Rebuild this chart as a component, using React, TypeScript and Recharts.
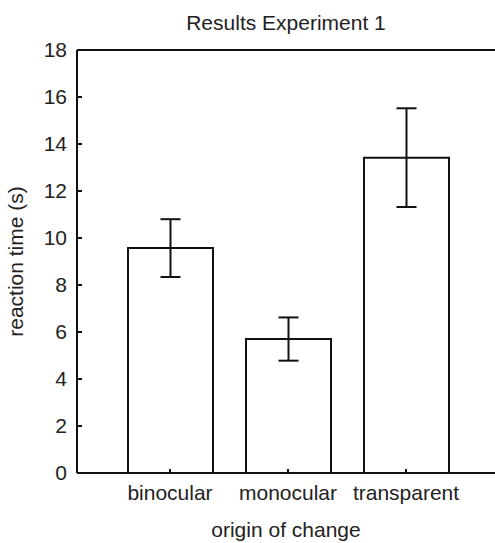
import { Bar, BarChart, ErrorBar, ReferenceLine, XAxis, YAxis } from "recharts"

const categories = ["binocular", "monocular", "transparent"]
const meanTimes = [9.57, 5.7, 13.42]
const errors = [1.23, 0.92, 2.1]
const yTicks = [0, 2, 4, 6, 8, 10, 12, 14, 16, 18]

const data = categories.map((name, i) => ({ name, value: meanTimes[i], err: errors[i] }))

const FONT = '"Liberation Sans", Arial, sans-serif'
const FONT_SIZE = 21

// ticks in the original point inward, so draw label + tick mark by hand
function YTick(props: any) {
    const { x, y, payload } = props
    return (
        <g>
            <text x={x} y={y} dy="0.355em" textAnchor="end" fontSize={FONT_SIZE} fontFamily={FONT} fill="#222">
                {payload.value}
            </text>
            {payload.value !== 18 && payload.value !== 0 && (
                <line x1={x + 10} x2={x + 15} y1={y} y2={y} stroke="#111" strokeWidth={2} />
            )}
        </g>
    )
}

function XTick(props: any) {
    const { x, y, payload } = props
    return (
        <g>
            <line x1={x} x2={x} y1={y - 12} y2={y - 16} stroke="#111" strokeWidth={2} />
            <text x={x} y={y} dy="0.71em" textAnchor="middle" fontSize={FONT_SIZE} fontFamily={FONT} fill="#222">
                {payload.value}
            </text>
        </g>
    )
}

export default function App() {
    return (
        <div style={{ position: "absolute", left: 0, top: 0, width: 495, height: 543, background: "#fff" }}>
            <div
                style={{
                    position: "absolute",
                    top: 12,
                    left: 77,
                    width: 418,
                    textAlign: "center",
                    fontFamily: FONT,
                    fontSize: FONT_SIZE,
                    lineHeight: "21px",
                    color: "#222",
                }}
            >
                Results Experiment 1
            </div>
            <BarChart width={495} height={543} data={data} margin={{ top: 50, right: 0, bottom: 0, left: 0 }}>
                <XAxis
                    dataKey="name"
                    height={70}
                    padding={{ left: 34, right: 30 }}
                    tickSize={0}
                    tickMargin={12}
                    tick={<XTick />}
                    axisLine={{ stroke: "#111", strokeWidth: 2 }}
                    label={{
                        value: "origin of change",
                        position: "insideBottom",
                        offset: 6,
                        style: { fontFamily: FONT, fontSize: FONT_SIZE, fill: "#222" },
                    }}
                />
                <YAxis
                    width={77}
                    domain={[0, 18]}
                    ticks={yTicks}
                    interval={0}
                    tickSize={0}
                    tickMargin={10}
                    tick={<YTick />}
                    axisLine={{ stroke: "#111", strokeWidth: 2 }}
                    label={{
                        value: "reaction time (s)",
                        angle: -90,
                        position: "insideLeft",
                        offset: 16,
                        style: { textAnchor: "middle", fontFamily: FONT, fontSize: FONT_SIZE, fill: "#222" },
                    }}
                />
                <ReferenceLine y={18} stroke="#111" strokeWidth={2} />
                <Bar dataKey="value" barSize={85} fill="#fff" stroke="#111" strokeWidth={2} isAnimationActive={false}>
                    <ErrorBar dataKey="err" width={10} stroke="#111" strokeWidth={2} />
                </Bar>
            </BarChart>
        </div>
    )
}
